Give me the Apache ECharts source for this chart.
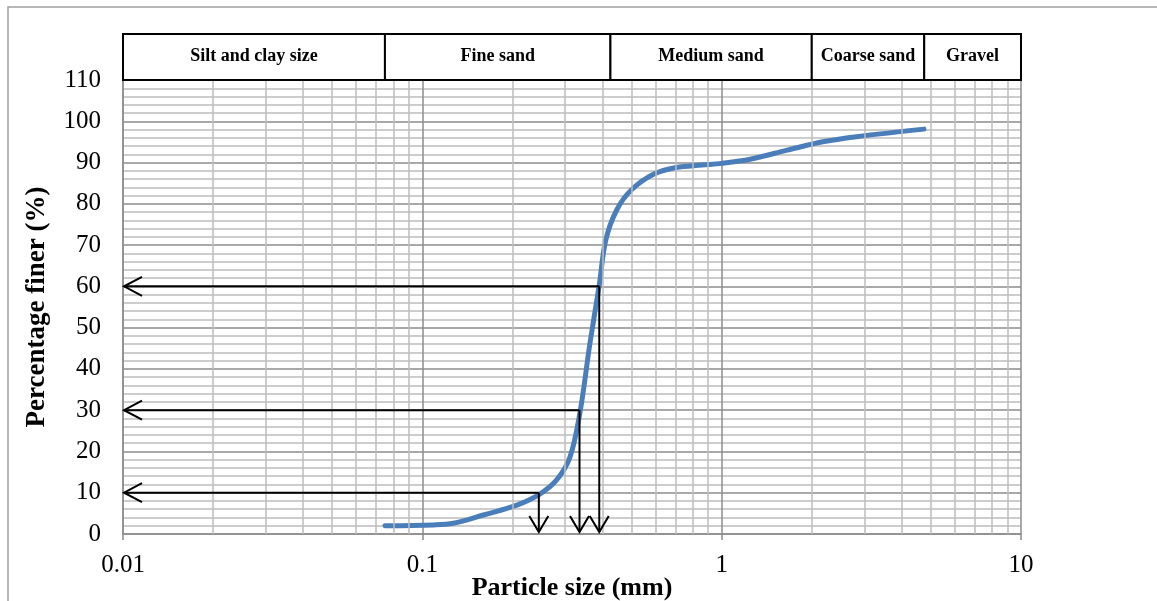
<!DOCTYPE html>
<html>
<head>
<meta charset="utf-8">
<script src="https://cdn.jsdelivr.net/npm/echarts@6/dist/echarts.min.js"></script>
<style>
html,body{margin:0;padding:0;background:#fff;}
#chart{width:1157px;height:601px;}
</style>
</head>
<body>
<div id="chart"></div>
<script>
// Grain size distribution
var particleSize = [0.075, 0.1088, 0.127, 0.16, 0.207, 0.246, 0.281, 0.3115, 0.3365, 0.363, 0.390, 0.410, 0.446, 0.500, 0.594, 0.704, 0.859, 1.00, 1.245, 1.654, 2.198, 2.92, 4.74];
var percentFiner = [2.0, 2.2, 2.6, 4.6, 7.0, 9.6, 13.1, 18.7, 29.6, 46.2, 60.3, 71.2, 78.5, 83.4, 87.2, 88.8, 89.4, 89.8, 90.8, 93.0, 95.1, 96.4, 98.1];

// Characteristic diameters D10, D30, D60
var dLabels = ['D10', 'D30', 'D60'];
var dSizes = [0.245, 0.335, 0.39];
var dPercents = [10, 30, 60];

// Soil classification bands (mm)
var bandNames = ['Silt and clay size', 'Fine sand', 'Medium sand', 'Coarse sand', 'Gravel'];
var bandStart = [0.01, 0.075, 0.425, 2.0, 4.75];
var bandEnd = [0.075, 0.425, 2.0, 4.75, 10];

// Axis ticks
var xDecades = [0.01, 0.1, 1, 10];
var xTickLabels = ['0.01', '0.1', '1', '10'];
var yTicks = [0, 10, 20, 30, 40, 50, 60, 70, 80, 90, 100, 110];

var minorX = [];
for (var i = 0; i < xDecades.length - 1; i++) {
  for (var m = 2; m <= 9; m++) minorX.push(+(xDecades[i] * m).toPrecision(6));
}

var curveData = particleSize.map(function (d, i) { return [d, percentFiner[i]]; });
var dData = dSizes.map(function (d, i) { return [d, dPercents[i]]; });
var bandData = bandNames.map(function (n, i) { return [bandStart[i], bandEnd[i], n]; });

var serif = 'Liberation Serif, Times New Roman, serif';
var chart = echarts.init(document.getElementById('chart'));

var option = {
  backgroundColor: '#ffffff',
  animation: false,
  graphic: [{
    type: 'rect', shape: { x: 8, y: 7, width: 1200, height: 700 },
    style: { fill: 'none', stroke: '#a0a0a0', lineWidth: 1.5 }, z: -10, silent: true
  }],
  grid: { left: 123, right: 136, top: 80, bottom: 67, containLabel: false, outerBoundsMode: 'none' },
  xAxis: {
    type: 'log', logBase: 10, min: 0.01, max: 10,
    name: 'Particle size (mm)', nameLocation: 'middle', nameGap: 41, nameMoveOverlap: false,
    nameTextStyle: { fontFamily: serif, fontWeight: 'bold', fontSize: 26, color: '#000' },
    axisLine: { show: true, lineStyle: { color: '#8c8c8c', width: 1.5 } },
    axisTick: { show: true, length: 6, lineStyle: { color: '#8c8c8c', width: 1.5 } },
    axisLabel: {
      fontFamily: serif, fontSize: 25, color: '#000', margin: 19,
      formatter: function (v) {
        for (var i = 0; i < xDecades.length; i++) if (Math.abs(v - xDecades[i]) < 1e-9) return xTickLabels[i];
        return '';
      }
    },
    splitLine: { show: true, lineStyle: { color: '#8c8c8c', width: 1.5 } }
  },
  yAxis: {
    type: 'value', min: 0, max: 110, interval: 10,
    name: 'Percentage finer (%)', nameLocation: 'middle', nameGap: 72, nameRotate: 90, nameMoveOverlap: false,
    nameTextStyle: { fontFamily: serif, fontWeight: 'bold', fontSize: 27, color: '#000' },
    axisLine: { show: true, lineStyle: { color: '#8c8c8c', width: 1.5 } },
    axisTick: { show: false },
    axisLabel: { fontFamily: serif, fontSize: 25, color: '#000', margin: 22 },
    splitLine: { show: true, lineStyle: { color: '#8c8c8c', width: 1.5 } },
    minorTick: { show: false, splitNumber: 5 },
    minorSplitLine: { show: true, lineStyle: { color: '#bdbdbd', width: 1.5 } }
  },
  series: [
    {
      type: 'line', data: [], z: 1, silent: true,
      markLine: {
        silent: true, symbol: ['none', 'none'], label: { show: false },
        lineStyle: { color: '#bdbdbd', width: 1.5, type: 'solid' },
        data: minorX.map(function (v) { return { xAxis: v }; })
      }
    },
    {
      type: 'line', data: curveData, smooth: 0.35, showSymbol: false, z: 4,
      lineStyle: { color: '#4a7ebb', width: 5, cap: 'round' }
    },
    {
      type: 'custom', data: dData, z: 5, clip: false,
      renderItem: function (params, api) {
        var d = api.value(0), p = api.value(1);
        var pt = api.coord([d, p]);
        var left = api.coord([0.01, p]);
        var bot = api.coord([d, 0]);
        var tipY = bot[1] - 2;
        var st = { stroke: '#000', lineWidth: 2, fill: 'none' };
        return {
          type: 'group', children: [
            { type: 'polyline', shape: { points: [pt, [left[0] + 1, pt[1]]] }, style: st },
            { type: 'polyline', shape: { points: [[left[0] + 19, pt[1] - 9.5], [left[0] + 1, pt[1]], [left[0] + 19, pt[1] + 9.5]] }, style: st },
            { type: 'polyline', shape: { points: [pt, [pt[0], tipY]] }, style: st },
            { type: 'polyline', shape: { points: [[pt[0] - 9.5, tipY - 16], [pt[0], tipY], [pt[0] + 9.5, tipY - 16]] }, style: st }
          ]
        };
      }
    },
    {
      type: 'custom', data: bandData, z: 6, clip: false,
      renderItem: function (params, api) {
        var a = api.coord([api.value(0), 110]);
        var b = api.coord([api.value(1), 110]);
        var h = 46;
        return {
          type: 'group', children: [
            { type: 'rect', shape: { x: a[0], y: a[1] - h, width: b[0] - a[0], height: h },
              style: { fill: '#fff', stroke: '#000', lineWidth: 2 } },
            { type: 'text', style: { text: bandNames[params.dataIndex], x: (a[0] + b[0]) / 2, y: a[1] - h / 2 - 1,
              align: 'center', verticalAlign: 'middle', fontFamily: serif, fontWeight: 'bold', fontSize: 18, fill: '#000' } }
          ]
        };
      }
    }
  ]
};
chart.setOption(option);
</script>
</body>
</html>
